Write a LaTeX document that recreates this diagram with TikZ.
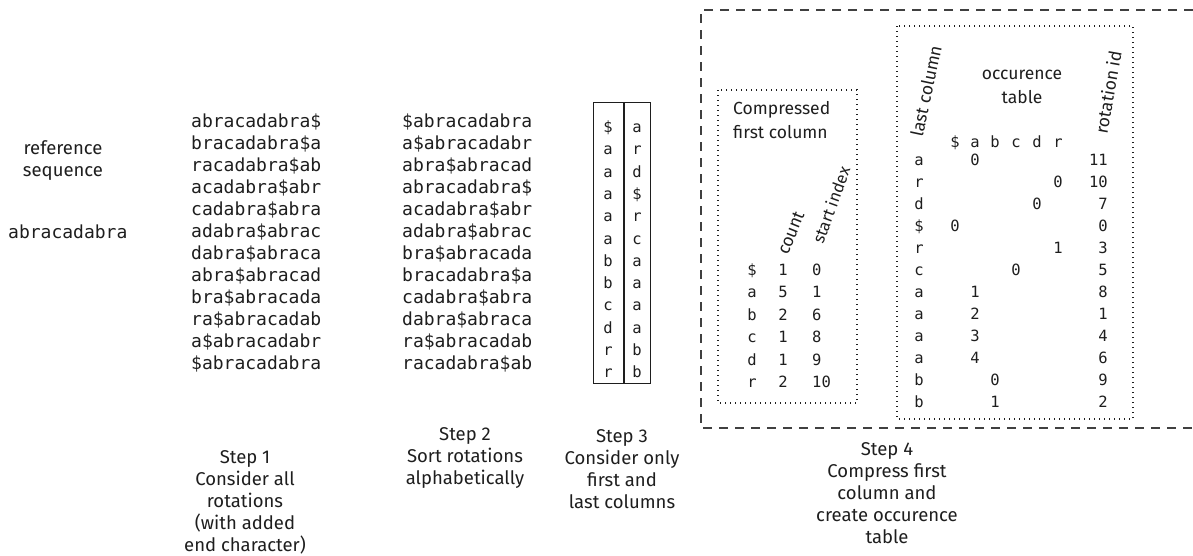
\documentclass[tikz,border=0pt]{standalone}
\usepackage{fontspec}
\setmainfont{Fira Sans}
\newfontfamily\codefont{DejaVu Sans Mono}
\definecolor{ink}{HTML}{1E1E1E}
\begin{document}
\begin{tikzpicture}[x=1pt,y=-1pt,
  hand/.style={font=\fontsize{18.5}{22}\selectfont, text=ink, align=center, inner sep=0pt},
  handsm/.style={font=\fontsize{17.5}{24}\selectfont, text=ink, align=center, inner sep=0pt},
  code/.style={font=\codefont\fontsize{18}{22}\selectfont, text=ink, inner sep=0pt,
    text height=0.75em, text depth=0.25em},
  codesm/.style={font=\codefont\fontsize{15.5}{22}\selectfont, text=ink, inner sep=0pt,
    text height=0.75em, text depth=0.25em},
  colbox/.style={draw=ink, line width=1pt, minimum height=281pt, inner sep=0pt},
  dotbox/.style={draw=ink, line width=1.2pt, dash pattern=on 1.3pt off 3.7pt},
  bigdash/.style={draw=ink!85, line width=1.3pt, dash pattern=on 9pt off 7pt}
]
\useasboundingbox (0,0) rectangle (1193,555);

% reference sequence
\node[hand] (reflabel) at (63,160.5) {reference\\sequence};
\node[code, anchor=west] (refseq) at (8,236) {abracadabra};

% step 1: all rotations
\foreach \r [count=\i from 0] in {abracadabra\$, bracadabra\$a, racadabra\$ab,
    acadabra\$abr, cadabra\$abra, adabra\$abrac, dabra\$abraca, abra\$abracad,
    bra\$abracada, ra\$abracadab, a\$abracadabr, \$abracadabra}
  \node[code, anchor=west] (rot\i) at (191,125+22*\i) {\r};

% step 2: sorted rotations
\foreach \r [count=\i from 0] in {\$abracadabra, a\$abracadabr, abra\$abracad,
    abracadabra\$, acadabra\$abr, adabra\$abrac, bra\$abracada, bracadabra\$a,
    cadabra\$abra, dabra\$abraca, ra\$abracadab, racadabra\$ab}
  \node[code, anchor=west] (srt\i) at (402,125+22*\i) {\r};

% step 3: first and last columns
\node[colbox, minimum width=30pt] (firstcol) at (608,242.5) {};
\node[colbox, minimum width=26pt, anchor=west] (lastcol) at (firstcol.east) {};
\foreach \f/\l [count=\i from 0] in {\$/a, a/r, a/d, a/\$, a/r, a/c, b/a, b/a, c/a, d/a, r/b, r/b} {
  \node[codesm] (fc\i) at (firstcol.center |- 0,130+22.3*\i) {\f};
  \node[codesm] (lc\i) at (lastcol.center |- 0,130+22.3*\i) {\l};
}

% step 4: outer frame (continues past the right edge)
\draw[bigdash] (1193,10) -- (701,10) -- (701,428) -- (1193,428);

% compressed first column
\draw[dotbox] (718,90) rectangle (857,403);
\node[handsm, align=left, anchor=west] (cmplabel) at (733,120) {Compressed\\first column};
\node[handsm, rotate=68] (counthdr) at (791,233) {count};
\node[handsm, rotate=70, font=\fontsize{16.5}{22}\selectfont] (starthdr) at (831,205) {start index};
\foreach \c/\n/\s [count=\i from 0] in {\$/1/0, a/5/1, b/2/6, c/1/8, d/1/9, r/2/10} {
  \node[codesm] (cc\i) at (752,273+22.4*\i) {\c};
  \node[codesm] (cn\i) at (783,273+22.4*\i) {\n};
  \node[codesm, anchor=west] (cs\i) at (812,273+22.4*\i) {\s};
}

% occurrence table
\draw[dotbox] (897,26) rectangle (1133,419);
\node[handsm, rotate=78] (lasthdr) at (926,91) {last column};
\node[handsm] (occhdr) at (1022,87) {occurence\\table};
\node[handsm, rotate=80] (rothdr) at (1108,92) {rotation id};
\node[codesm] (hdend) at (955,145) {\$};
\node[codesm] (hda) at (975,145) {a};
\node[codesm] (hdb) at (995,145) {b};
\node[codesm] (hdc) at (1016,145) {c};
\node[codesm] (hdd) at (1037,145) {d};
\node[codesm] (hdr) at (1058,145) {r};
\foreach \l/\x/\v/\id [count=\i from 0] in {a/975/0/11, r/1058/0/10, d/1037/0/7,
    \$/955/0/0, r/1058/1/3, c/1016/0/5, a/975/1/8, a/975/2/1, a/975/3/4,
    a/975/4/6, b/995/0/9, b/995/1/2} {
  \node[codesm] (oc\i) at (919,163+22*\i) {\l};
  \node[codesm] (ov\i) at (\x,163+22*\i) {\v};
  \node[codesm, anchor=east] (oid\i) at (1108,163+22*\i) {\id};
}

% step captions
\node[hand] (step1) at (245,502.5) {Step 1\\Consider all\\rotations\\(with added\\end character)};
\node[hand] (step2) at (465,458) {Step 2\\Sort rotations\\alphabetically};
\node[hand] (step3) at (622,469.5) {Step 3\\Consider only\\first and\\last columns};
\node[hand] (step4) at (887,493) {Step 4\\Compress first\\column and\\create occurence\\table};
\end{tikzpicture}
\end{document}
